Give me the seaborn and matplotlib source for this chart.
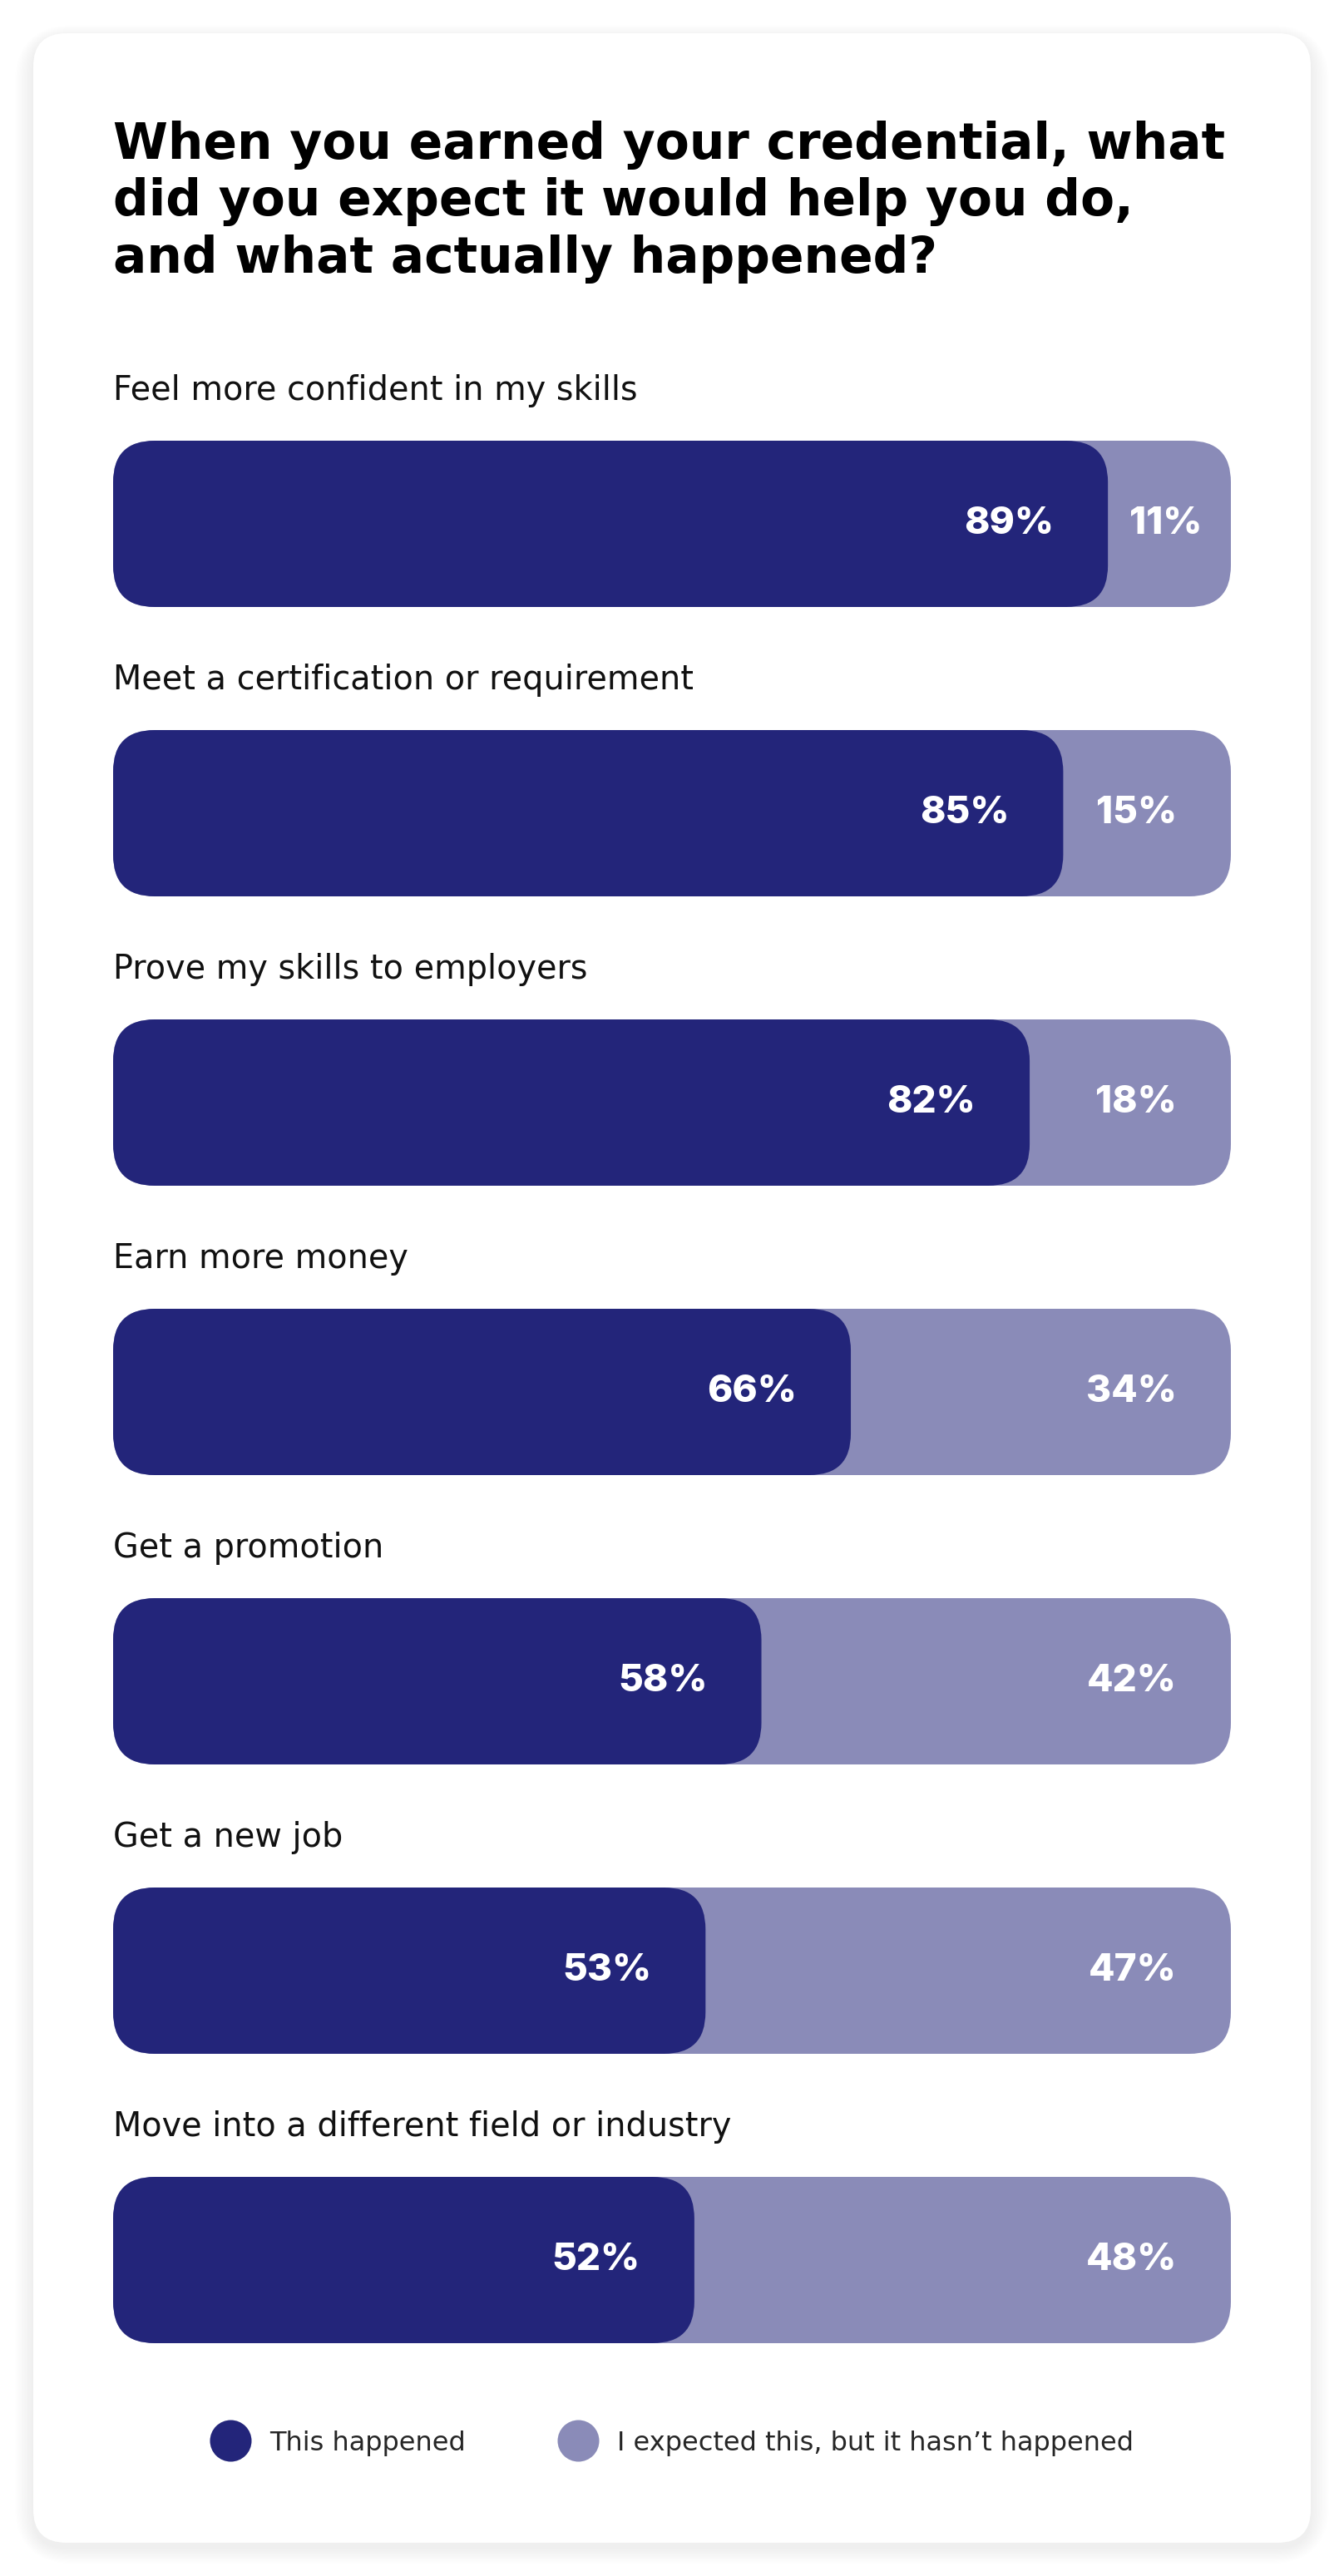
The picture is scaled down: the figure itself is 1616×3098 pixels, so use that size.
import numpy as np
import pandas as pd
import seaborn as sns
import matplotlib.pyplot as plt
from matplotlib.patches import FancyBboxPatch
from matplotlib.lines import Line2D

# data
categories = ['Feel more confident in my skills',
              'Meet a certification or requirement',
              'Prove my skills to employers',
              'Earn more money',
              'Get a promotion',
              'Get a new job',
              'Move into a different field or industry']
happened = [89, 85, 82, 66, 58, 53, 52]
expected = [11, 15, 18, 34, 42, 47, 48]
series_names = ['This happened', "I expected this, but it hasn\u2019t happened"]

DARK = '#23257a'
LIGHT = '#8a8bb8'

sns.set_theme(style='white')
plt.rcParams['font.family'] = ['DejaVu Sans']
NUMFONT = ['Inter', 'DejaVu Sans']

W, H = 1616, 3098
DPI = 200
fig = plt.figure(figsize=(W / DPI, H / DPI), dpi=DPI)
fig.patch.set_facecolor('white')

# background card (pixel coords)
bg = fig.add_axes([0, 0, 1, 1])
bg.set_xlim(0, W)
bg.set_ylim(H, 0)
bg.axis('off')
for k in range(16, 0, -1):
    bg.add_patch(FancyBboxPatch((40 - k * 1.4, 40 - k + 6), 1536 + k * 2.8, 3018 + k * 2.2,
                                boxstyle='round,pad=0,rounding_size=%d' % (40 + k * 2),
                                fc='#000000', ec='none', alpha=0.004))
bg.add_patch(FancyBboxPatch((40, 40), 1536, 3018, boxstyle='round,pad=0,rounding_size=40',
                            fc='white', ec='none'))

# main axes
x0, x1 = 136, 1480
first_c, step = 630, 348
top_px, bot_px = 430, 2860
ax = fig.add_axes([x0 / W, 1 - bot_px / H, (x1 - x0) / W, (bot_px - top_px) / H])
ax.patch.set_alpha(0)

df = pd.DataFrame({'category': categories, 'happened': happened, 'expected': expected})
df['total'] = df['happened'] + df['expected']

bar_h = 200 / step
sns.barplot(data=df, x='total', y='category', color=LIGHT, width=bar_h, orient='h',
            ax=ax, saturation=1)
sns.barplot(data=df, x='happened', y='category', color=DARK, width=bar_h, orient='h',
            ax=ax, saturation=1)

ax.set_xlim(0, 100)
ax.set_ylim((bot_px - first_c) / step, (top_px - first_c) / step)

# rounded bars
px_x = (x1 - x0) / 100.0
r_px = 50
rx = r_px / px_x
ry = r_px / step
for p in list(ax.patches):
    bx, by = p.get_x(), p.get_y()
    bw, bh = p.get_width(), p.get_height()
    fc = p.get_facecolor()
    p.remove()
    ax.add_patch(FancyBboxPatch((bx, by), bw, bh,
                                boxstyle='round,pad=0,rounding_size=%f' % rx,
                                mutation_aspect=ry / rx, fc=fc, ec='none'))

pad = 65 / px_x
for i, (h, e) in enumerate(zip(happened, expected)):
    ax.text(h - pad, i, '%d%%' % h, ha='right', va='center', color='white',
            fontsize=16.5, fontweight='heavy', family=NUMFONT)
    if e < 13:
        # narrow segment: label sits in the middle
        ax.text(h + e / 2 - 0.3, i, '%d%%' % e, ha='center', va='center', color='white',
                fontsize=16.5, fontweight='heavy', family=NUMFONT)
    else:
        ax.text(100 - pad, i, '%d%%' % e, ha='right', va='center', color='white',
                fontsize=16.5, fontweight='heavy', family=NUMFONT)
    ax.text(0, i - 160 / step, categories[i], ha='left', va='center', color='#111111',
            fontsize=14.3)

ax.set_xticks([])
ax.set_yticks([])
ax.set_xlabel('')
ax.set_ylabel('')
sns.despine(ax=ax, left=True, bottom=True)

# title
fig.text(x0 / W, 1 - 243 / H,
         'When you earned your credential, what\ndid you expect it would help you do,\nand what actually happened?',
         ha='left', va='center', fontsize=21.5, fontweight='bold', color='#000000',
         linespacing=1.2)

# legend
handles = [Line2D([], [], marker='o', ls='none', markersize=17, color=DARK),
           Line2D([], [], marker='o', ls='none', markersize=17, color=LIGHT)]
fig.legend(handles, series_names, loc='center', bbox_to_anchor=(0.5, 1 - 2938 / H),
           ncol=2, frameon=False, fontsize=11.5, handlelength=1.5, handletextpad=0.72,
           columnspacing=3.5)

fig.savefig('out.png', dpi=DPI)
